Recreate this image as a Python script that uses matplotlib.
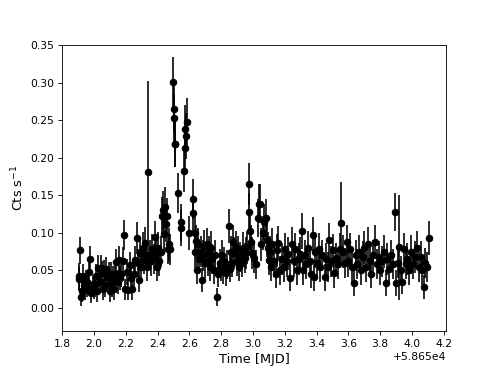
import matplotlib
matplotlib.use('Agg')
import matplotlib.pyplot as plt
from matplotlib.ticker import MultipleLocator

mjd0 = 58650.0

# time offsets from MJD 58650 [d]
time = [
    1.903, 1.908, 1.913, 1.918, 1.923, 1.928, 1.935, 1.942, 1.948, 1.955,
    1.962, 1.970, 1.975, 1.982, 1.990, 1.998, 2.005, 2.012, 2.020, 2.027,
    2.035, 2.042, 2.050, 2.057, 2.063, 2.070, 2.078, 2.085, 2.092, 2.098,
    2.105, 2.112, 2.118,
    2.125, 2.132, 2.140, 2.148, 2.155, 2.162, 2.172, 2.180, 2.186, 2.195,
    2.205, 2.215, 2.225, 2.232, 2.240, 2.250, 2.258, 2.268, 2.275, 2.282,
    2.290, 2.298, 2.305, 2.312, 2.320, 2.328, 2.335,
    2.342, 2.350, 2.358, 2.366, 2.375, 2.384, 2.390, 2.395, 2.402, 2.410,
    2.418, 2.426, 2.432, 2.440, 2.446, 2.452, 2.458, 2.465, 2.472, 2.480,
    2.497, 2.500, 2.503, 2.506, 2.512, 2.530, 2.545, 2.550, 2.565, 2.570,
    2.575, 2.580, 2.585, 2.600,
    2.620, 2.625, 2.632, 2.638, 2.642, 2.648, 2.655, 2.662, 2.670, 2.678,
    2.685, 2.692, 2.700, 2.708, 2.715, 2.722, 2.730, 2.738, 2.745, 2.752,
    2.760, 2.774, 2.782, 2.790, 2.797,
    2.805, 2.812, 2.820, 2.828, 2.835, 2.848, 2.855, 2.862, 2.868, 2.875,
    2.882, 2.890, 2.898, 2.905, 2.912, 2.920, 2.930, 2.940, 2.948, 2.956,
    2.965, 2.972, 2.976, 2.980, 2.986, 2.995, 3.005, 3.020, 3.030, 3.038,
    3.045, 3.052, 3.060, 3.068, 3.080, 3.087, 3.093, 3.100, 3.108, 3.115,
    3.122,
    3.132, 3.142, 3.150, 3.160, 3.170, 3.180, 3.192, 3.202, 3.212, 3.222,
    3.235, 3.245, 3.255, 3.265, 3.275, 3.288, 3.298, 3.306, 3.315, 3.325,
    3.336, 3.346, 3.356, 3.366, 3.376, 3.382, 3.392, 3.402, 3.414, 3.424,
    3.436, 3.450, 3.460, 3.470, 3.480, 3.490, 3.502, 3.512, 3.522, 3.534,
    3.545, 3.556, 3.566, 3.578,
    3.590, 3.600, 3.612, 3.622, 3.636, 3.646, 3.656, 3.666, 3.678, 3.690,
    3.700, 3.712, 3.722, 3.734, 3.745, 3.756, 3.766, 3.778, 3.790, 3.800,
    3.812, 3.822, 3.836, 3.846, 3.858, 3.870, 3.882, 3.894, 3.900, 3.910,
    3.920, 3.930, 3.940, 3.950, 3.960, 3.972, 3.984, 3.996, 4.008, 4.020,
    4.032, 4.044, 4.056, 4.066, 4.074, 4.084, 4.094, 4.105,
]

# count rate [cts/s]
rate = [
    0.042, 0.038, 0.077, 0.015, 0.022, 0.042, 0.030, 0.025, 0.036, 0.028,
    0.033, 0.048, 0.065, 0.020, 0.030, 0.026, 0.030, 0.042, 0.022, 0.053,
    0.035, 0.053, 0.047, 0.025, 0.048, 0.030, 0.052, 0.040, 0.045, 0.022,
    0.045, 0.030, 0.040,
    0.025, 0.045, 0.061, 0.035, 0.064, 0.040, 0.045, 0.063, 0.097, 0.025,
    0.048, 0.024, 0.057, 0.040, 0.025, 0.045, 0.064, 0.093, 0.060, 0.037,
    0.073, 0.055, 0.080, 0.064, 0.086, 0.070, 0.055,
    0.181, 0.070, 0.062, 0.078, 0.065, 0.094, 0.072, 0.055, 0.080, 0.063,
    0.075, 0.123, 0.130, 0.098, 0.135, 0.112, 0.122, 0.079, 0.085, 0.078,
    0.301, 0.253, 0.265, 0.218, 0.218, 0.153, 0.106, 0.114, 0.183, 0.239,
    0.213, 0.229, 0.248, 0.100,
    0.145, 0.126, 0.100, 0.074, 0.089, 0.050, 0.085, 0.065, 0.075, 0.037,
    0.070, 0.082, 0.060, 0.085, 0.063, 0.075, 0.055, 0.080, 0.065, 0.050,
    0.070, 0.014, 0.045, 0.060, 0.054,
    0.070, 0.050, 0.062, 0.046, 0.058, 0.109, 0.052, 0.075, 0.060, 0.088,
    0.073, 0.081, 0.062, 0.075, 0.055, 0.068, 0.060, 0.080, 0.067, 0.073,
    0.081, 0.165, 0.128, 0.103, 0.088, 0.073, 0.066, 0.058, 0.120, 0.139,
    0.139, 0.085, 0.100, 0.114, 0.120, 0.090, 0.080, 0.064, 0.075, 0.055,
    0.085,
    0.062, 0.045, 0.077, 0.086, 0.050, 0.065, 0.055, 0.078, 0.062, 0.072,
    0.040, 0.085, 0.062, 0.078, 0.050, 0.065, 0.072, 0.103, 0.050, 0.070,
    0.058, 0.080, 0.062, 0.045, 0.097, 0.041, 0.075, 0.060, 0.078, 0.055,
    0.070, 0.041, 0.065, 0.055, 0.090, 0.062, 0.077, 0.046, 0.066, 0.058,
    0.078, 0.113, 0.075, 0.060,
    0.088, 0.062, 0.078, 0.055, 0.033, 0.070, 0.058, 0.075, 0.050, 0.068,
    0.080, 0.055, 0.085, 0.062, 0.045, 0.070, 0.088, 0.058, 0.068, 0.050,
    0.062, 0.075, 0.033, 0.065, 0.052, 0.070, 0.058, 0.128, 0.033, 0.060,
    0.081, 0.050, 0.035, 0.078, 0.058, 0.065, 0.050, 0.075, 0.058, 0.068,
    0.080, 0.055, 0.068, 0.050, 0.028, 0.060, 0.055, 0.093,
]

# 1-sigma uncertainty on rate
rate_err = [
    0.018, 0.016, 0.018, 0.012, 0.014, 0.016, 0.014, 0.014, 0.015, 0.014,
    0.015, 0.016, 0.017, 0.013, 0.014, 0.014, 0.015, 0.016, 0.014, 0.017,
    0.015, 0.017, 0.016, 0.014, 0.016, 0.015, 0.016, 0.015, 0.016, 0.014,
    0.016, 0.015, 0.016,
    0.014, 0.016, 0.018, 0.016, 0.018, 0.016, 0.017, 0.018, 0.020, 0.014,
    0.017, 0.014, 0.018, 0.016, 0.015, 0.017, 0.019, 0.021, 0.019, 0.016,
    0.020, 0.019, 0.021, 0.019, 0.022, 0.020, 0.019,
    0.122, 0.020, 0.019, 0.021, 0.020, 0.022, 0.021, 0.019, 0.021, 0.020,
    0.021, 0.025, 0.026, 0.023, 0.026, 0.024, 0.025, 0.021, 0.022, 0.021,
    0.033, 0.032, 0.032, 0.030, 0.030, 0.027, 0.024, 0.025, 0.028, 0.031,
    0.030, 0.031, 0.032, 0.023,
    0.027, 0.025, 0.023, 0.021, 0.022, 0.018, 0.022, 0.020, 0.021, 0.016,
    0.021, 0.022, 0.020, 0.022, 0.020, 0.021, 0.019, 0.022, 0.020, 0.018,
    0.021, 0.012, 0.017, 0.019, 0.018,
    0.020, 0.018, 0.019, 0.017, 0.019, 0.023, 0.018, 0.021, 0.019, 0.022,
    0.021, 0.022, 0.019, 0.021, 0.019, 0.020, 0.019, 0.021, 0.020, 0.021,
    0.022, 0.028, 0.025, 0.023, 0.022, 0.021, 0.020, 0.019, 0.025, 0.026,
    0.026, 0.022, 0.023, 0.024, 0.025, 0.022, 0.021, 0.020, 0.021, 0.019,
    0.022,
    0.021, 0.019, 0.022, 0.023, 0.019, 0.021, 0.020, 0.022, 0.021, 0.022,
    0.018, 0.023, 0.021, 0.022, 0.019, 0.021, 0.022, 0.024, 0.019, 0.021,
    0.020, 0.022, 0.021, 0.019, 0.024, 0.018, 0.022, 0.020, 0.022, 0.020,
    0.021, 0.018, 0.021, 0.020, 0.023, 0.021, 0.022, 0.019, 0.021, 0.020,
    0.022, 0.055, 0.022, 0.020,
    0.023, 0.021, 0.022, 0.020, 0.017, 0.021, 0.020, 0.022, 0.019, 0.021,
    0.022, 0.020, 0.023, 0.021, 0.019, 0.021, 0.023, 0.020, 0.021, 0.019,
    0.021, 0.022, 0.017, 0.021, 0.019, 0.021, 0.020, 0.025, 0.017, 0.020,
    0.070, 0.019, 0.017, 0.022, 0.020, 0.021, 0.019, 0.022, 0.020, 0.021,
    0.022, 0.020, 0.021, 0.019, 0.016, 0.020, 0.020, 0.023,
]

mjd = [t + mjd0 for t in time]

fig = plt.figure(figsize=(6.4, 4.8), dpi=77.5)
ax = fig.add_subplot(111)
ax.errorbar(mjd, rate, yerr=rate_err, fmt='o', color='k')
ax.set_xlim(mjd0 + 1.798, mjd0 + 4.217)
ax.set_ylim(-0.031, 0.351)
ax.xaxis.set_major_locator(MultipleLocator(0.2))
ax.set_xlabel('Time [MJD]', fontsize=12)
ax.set_ylabel('Cts s$^{-1}$', fontsize=12)

fig.savefig('out.png')
